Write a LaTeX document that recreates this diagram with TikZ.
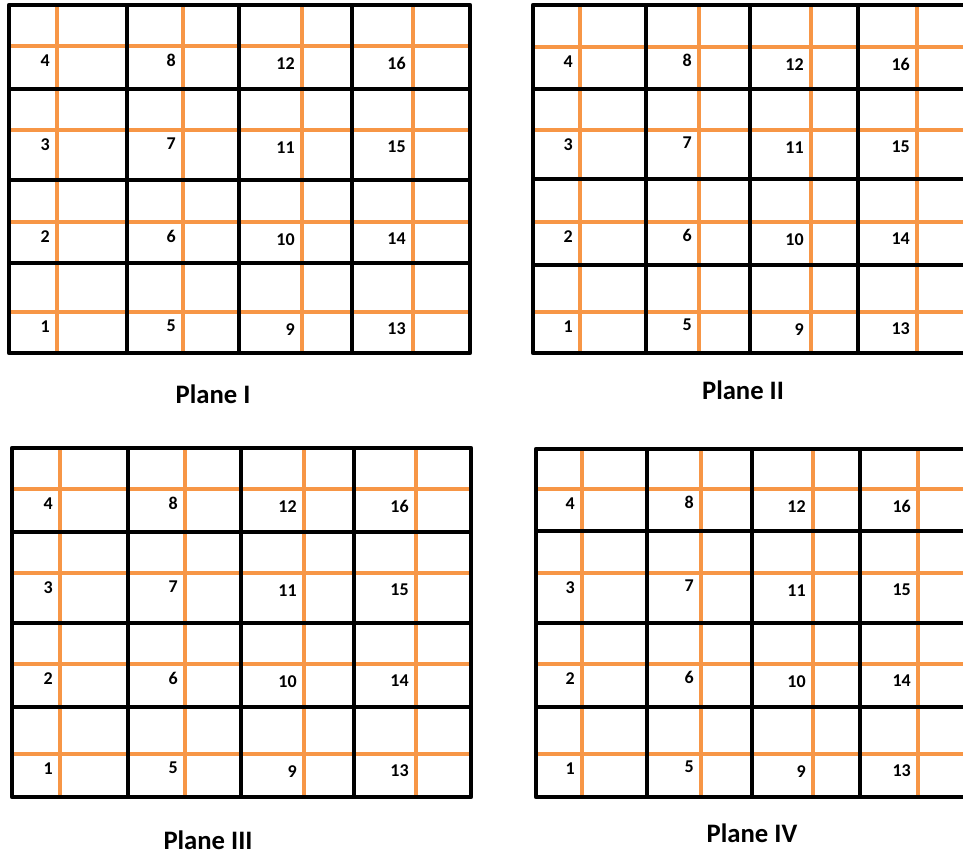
\documentclass[tikz,border=0pt]{standalone}
\usepackage{fontspec}
\setmainfont{Carlito}
\definecolor{gridorange}{RGB}{247,150,70}
\tikzset{
  blackline/.style={line width=3.4pt, line join=round},
  orangeline/.style={gridorange, line width=2.8pt},
  num/.style={font=\bfseries\fontsize{13.5}{14}\selectfont, anchor=east, inner sep=0pt},
  planelabel/.style={font=\bfseries\fontsize{20}{22}\selectfont, inner sep=0pt}
}
\begin{document}
\begin{tikzpicture}[x=0.75pt,y=-0.75pt]
		\useasboundingbox (0,0) rectangle (963,854);
		\clip (0,0) rectangle (963,854);
		% Plane I
		\foreach \x in {57,183,302,413} \draw[orangeline] (\x,5) -- (\x,353);
		\foreach \y in {46,130,222,312} \draw[orangeline] (9,\y) -- (470,\y);
		\foreach \x in {127,239,352} \draw[blackline] (\x,5) -- (\x,353);
		\foreach \y in {89,180,263} \draw[blackline] (9,\y) -- (470,\y);
		\draw[blackline] (9,5) rectangle (470,353);
		\foreach \col/\x/\d in {0/57/15,1/183/14,2/302/18,3/413/17}
			\foreach \r/\y in {4/46,3/130,2/222,1/312}{
				\pgfmathtruncatemacro\num{4*\col+\r}
				\node[num] (pI-\num) at (\x-7,\y+\d) {\num};
			}
		\node[planelabel] (labelI) at (213,394) {Plane I};
		% Plane II
		\foreach \x in {580,699,811,917} \draw[orangeline] (\x,5) -- (\x,353);
		\foreach \y in {47,130,222,312} \draw[orangeline] (533,\y) -- (968,\y);
		\foreach \x in {646,750,858} \draw[blackline] (\x,5) -- (\x,353);
		\foreach \y in {89,179,265} \draw[blackline] (533,\y) -- (968,\y);
		\draw[blackline] (533,5) rectangle (968,353);
		\foreach \col/\x/\d in {0/580/15,1/699/13,2/811/18,3/917/17}
			\foreach \r/\y in {4/47,3/130,2/222,1/312}{
				\pgfmathtruncatemacro\num{4*\col+\r}
				\node[num] (pII-\num) at (\x-7,\y+\d) {\num};
			}
		\node[planelabel] (labelII) at (743,390) {Plane II};
		% Plane III
		\foreach \x in {60,185,304,416} \draw[orangeline] (\x,448) -- (\x,797);
		\foreach \y in {489,573,664,754} \draw[orangeline] (12,\y) -- (471,\y);
		\foreach \x in {128,241,354} \draw[blackline] (\x,448) -- (\x,797);
		\foreach \y in {532,623,707} \draw[blackline] (12,\y) -- (471,\y);
		\draw[blackline] (12,448) rectangle (471,797);
		\foreach \col/\x/\d in {0/60/15,1/185/14,2/304/18,3/416/17}
			\foreach \r/\y in {4/489,3/573,2/664,1/754}{
				\pgfmathtruncatemacro\num{4*\col+\r}
				\node[num] (pIII-\num) at (\x-7,\y+\d) {\num};
			}
		\node[planelabel] (labelIII) at (208,840) {Plane III};
		% Plane IV
		\foreach \x in {582,701,813,918} \draw[orangeline] (\x,449) -- (\x,797);
		\foreach \y in {489,573,664,754} \draw[orangeline] (536,\y) -- (970,\y);
		\foreach \x in {647,752,860} \draw[blackline] (\x,449) -- (\x,797);
		\foreach \y in {531,623,707} \draw[blackline] (536,\y) -- (970,\y);
		\draw[blackline] (536,449) rectangle (970,797);
		\foreach \col/\x/\d in {0/582/15,1/701/13,2/813/18,3/918/17}
			\foreach \r/\y in {4/489,3/573,2/664,1/754}{
				\pgfmathtruncatemacro\num{4*\col+\r}
				\node[num] (pIV-\num) at (\x-7,\y+\d) {\num};
			}
		\node[planelabel] (labelIV) at (752,833) {Plane IV};
\end{tikzpicture}
\end{document}
